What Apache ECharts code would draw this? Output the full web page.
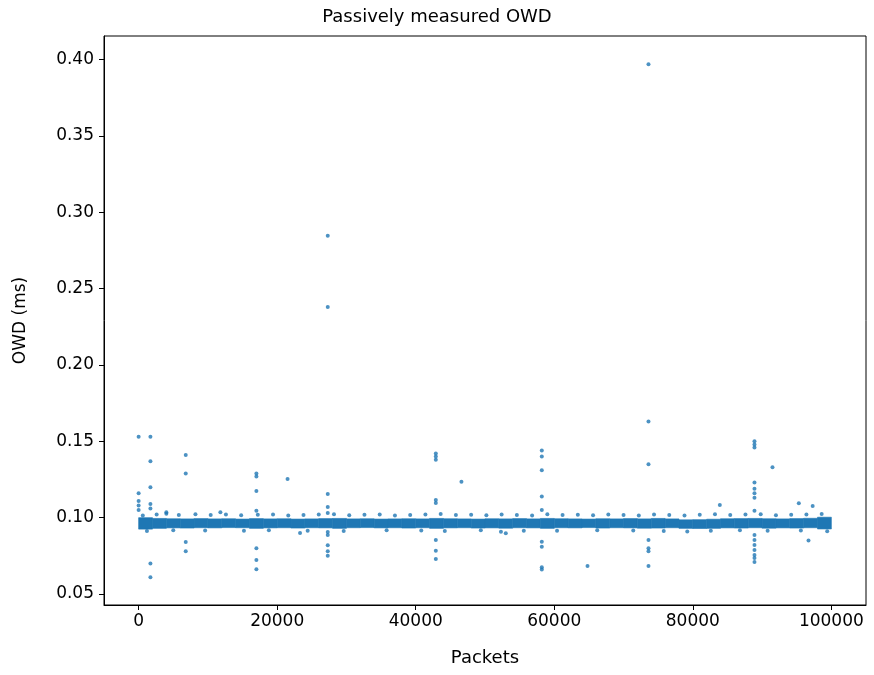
<!DOCTYPE html>
<html>
<head>
<meta charset="utf-8">
<script src="https://cdn.jsdelivr.net/npm/echarts@6/dist/echarts.min.js"></script>
<style>
  html, body { margin: 0; padding: 0; background: #fff; }
  #main { width: 874px; height: 675px; }
</style>
</head>
<body>
<div id="main"></div>
<script>
const blue = "#1f77b4";

const xTicks = [0, 20000, 40000, 60000, 80000, 100000];
const yTicks = [0.05, 0.10, 0.15, 0.20, 0.25, 0.30, 0.35, 0.40];

// dense core of the packets, read per 2000-packet bin (start, low, high)
const bandStart = [0, 2000, 4000, 6000, 8000, 10000, 12000, 14000, 16000, 18000,
  20000, 22000, 24000, 26000, 28000, 30000, 32000, 34000, 36000, 38000,
  40000, 42000, 44000, 46000, 48000, 50000, 52000, 54000, 56000, 58000,
  60000, 62000, 64000, 66000, 68000, 70000, 72000, 74000, 76000, 78000,
  80000, 82000, 84000, 86000, 88000, 90000, 92000, 94000, 96000, 98000];
const bandLow = [0.0925, 0.0930, 0.0933, 0.0932, 0.0934, 0.0933, 0.0935, 0.0934, 0.0930, 0.0933,
  0.0934, 0.0932, 0.0934, 0.0933, 0.0930, 0.0934, 0.0935, 0.0933, 0.0934, 0.0932,
  0.0934, 0.0930, 0.0933, 0.0934, 0.0932, 0.0933, 0.0931, 0.0934, 0.0933, 0.0930,
  0.0934, 0.0933, 0.0935, 0.0932, 0.0934, 0.0933, 0.0931, 0.0932, 0.0934, 0.0930,
  0.0929, 0.0930, 0.0933, 0.0932, 0.0934, 0.0931, 0.0933, 0.0932, 0.0934, 0.0926];
const bandHigh = [0.1000, 0.0995, 0.0993, 0.0992, 0.0994, 0.0992, 0.0993, 0.0991, 0.0994, 0.0992,
  0.0993, 0.0991, 0.0992, 0.0994, 0.0995, 0.0992, 0.0993, 0.0991, 0.0992, 0.0993,
  0.0992, 0.0995, 0.0993, 0.0992, 0.0991, 0.0993, 0.0992, 0.0994, 0.0992, 0.0995,
  0.0993, 0.0992, 0.0991, 0.0993, 0.0992, 0.0994, 0.0992, 0.0995, 0.0992, 0.0986,
  0.0987, 0.0990, 0.0993, 0.0994, 0.0995, 0.0993, 0.0992, 0.0994, 0.0996, 0.1003];

// small bumps along the edges of the band
const edgeX = [600, 2600, 4000, 5800, 8200, 10400, 12600, 14800, 17200, 19400, 21600, 23800,
  26000, 28200, 30400, 32600, 34800, 37000, 39200, 41400, 43600, 45800, 48000, 50200,
  52400, 54600, 56800, 59000, 61200, 63400, 65600, 67800, 70000, 72200, 74400, 76600,
  78800, 81000, 83200, 85400, 87600, 89800, 92000, 94200, 96400, 98600,
  1200, 5000, 9600, 15200, 18800, 24400, 29600, 35800, 40800, 44200, 49400, 55600,
  60400, 66200, 71400, 75800, 79200, 82600, 86800, 90800, 95600, 99400];
const edgeY = [0.1015, 0.1020, 0.1025, 0.1018, 0.1022, 0.1017, 0.1020, 0.1016, 0.1019, 0.1021, 0.1015, 0.1018,
  0.1020, 0.1022, 0.1016, 0.1019, 0.1021, 0.1015, 0.1018, 0.1020, 0.1024, 0.1017, 0.1019, 0.1016,
  0.1021, 0.1018, 0.1015, 0.1022, 0.1017, 0.1019, 0.1016, 0.1020, 0.1018, 0.1015, 0.1021, 0.1017,
  0.1014, 0.1019, 0.1023, 0.1018, 0.1020, 0.1022, 0.1016, 0.1019, 0.1021, 0.1024,
  0.0912, 0.0918, 0.0916, 0.0914, 0.0917, 0.0915, 0.0913, 0.0918, 0.0916, 0.0912, 0.0917, 0.0915,
  0.0914, 0.0918, 0.0916, 0.0913, 0.0910, 0.0915, 0.0917, 0.0914, 0.0916, 0.0911];

// isolated packets away from the band
const outX = [0, 0, 0, 0, 0,
  1700, 1700, 1700, 1700, 1700, 1700, 1700,
  4000, 6800, 6800, 6800, 6800, 11800,
  17000, 17000, 17000, 17000, 17000, 17000, 17000,
  21500, 23300,
  27300, 27300, 27300, 27300, 27300, 27300, 27300, 27300, 27300, 27300,
  42900, 42900, 42900, 42900, 42900, 42900, 42900, 42900,
  46600, 52300, 53000,
  58200, 58200, 58200, 58200, 58200, 58200, 58200, 58200, 58200,
  64800,
  73600, 73600, 73600, 73600, 73600, 73600, 73600,
  83900,
  88900, 88900, 88900, 88900, 88900, 88900, 88900, 88900, 88900, 88900, 88900, 88900, 88900, 88900, 88900,
  91500, 95300, 96700, 97300];
const outY = [0.153, 0.116, 0.111, 0.108, 0.105,
  0.153, 0.137, 0.120, 0.109, 0.106, 0.070, 0.061,
  0.1035, 0.141, 0.129, 0.084, 0.078, 0.1035,
  0.129, 0.127, 0.1175, 0.1046, 0.080, 0.0723, 0.0662,
  0.1254, 0.090,
  0.2847, 0.238, 0.1155, 0.107, 0.103, 0.0906, 0.0887, 0.082, 0.078, 0.075,
  0.142, 0.140, 0.138, 0.1116, 0.1096, 0.0854, 0.0784, 0.0729,
  0.1236, 0.0908, 0.0898,
  0.144, 0.140, 0.131, 0.1138, 0.105, 0.0843, 0.081, 0.0675, 0.066,
  0.0684,
  0.397, 0.163, 0.135, 0.0854, 0.080, 0.078, 0.0684,
  0.1083,
  0.150, 0.148, 0.146, 0.123, 0.119, 0.116, 0.113, 0.1046, 0.0887, 0.0854, 0.0821, 0.0788, 0.0756, 0.0736, 0.071,
  0.133, 0.1094, 0.085, 0.1077];

const binWidth = 2000;
const bandData = bandStart.map((s, i) => [s, bandLow[i], bandHigh[i]]);
const edgeData = edgeX.map((x, i) => [x, edgeY[i]]);
const outData = outX.map((x, i) => [x, outY[i]]);

const chart = echarts.init(document.getElementById("main"));
const font = "DejaVu Sans";

const option = {
  animation: false,
  title: {
    text: "Passively measured OWD",
    left: "center",
    top: 3,
    textStyle: { fontFamily: font, fontSize: 18, fontWeight: "normal", color: "#000" },
  },
  grid: {
    left: 104, right: 8, top: 36, bottom: 70,
    show: true, borderColor: "#000", borderWidth: 1, backgroundColor: "transparent",
  },
  xAxis: {
    type: "value",
    min: -5000,
    max: 105000,
    name: "Packets",
    nameLocation: "middle",
    nameGap: 44,
    nameTextStyle: { fontFamily: font, fontSize: 18, color: "#000" },
    axisLine: { show: true, onZero: false, lineStyle: { color: "#000" } },
    axisTick: { show: true, length: 5, lineStyle: { color: "#000" }, customValues: xTicks },
    axisLabel: {
      fontFamily: font, fontSize: 17, color: "#000", margin: 8, customValues: xTicks,
      formatter: (v) => String(v),
    },
    splitLine: { show: false },
  },
  yAxis: {
    type: "value",
    min: 0.0428,
    max: 0.4155,
    name: "OWD (ms)",
    nameLocation: "middle",
    nameGap: 75,
    nameTextStyle: { fontFamily: font, fontSize: 17, color: "#000" },
    axisLine: { show: true, onZero: false, lineStyle: { color: "#000" } },
    axisTick: { show: true, length: 5, lineStyle: { color: "#000" }, customValues: yTicks },
    axisLabel: {
      fontFamily: font, fontSize: 17, color: "#000", margin: 10, customValues: yTicks,
      formatter: (v) => v.toFixed(2),
    },
    splitLine: { show: false },
  },
  series: [
    {
      type: "custom",
      data: bandData,
      renderItem: function (params, api) {
        const p0 = api.coord([api.value(0), api.value(2)]);
        const p1 = api.coord([api.value(0) + binWidth, api.value(1)]);
        return {
          type: "rect",
          shape: { x: p0[0], y: p0[1], width: p1[0] - p0[0], height: p1[1] - p0[1] },
          style: { fill: blue, stroke: blue, lineWidth: 0.6 },
        };
      },
    },
    {
      type: "scatter",
      data: edgeData,
      symbolSize: 4,
      itemStyle: { color: blue },
    },
    {
      type: "scatter",
      data: outData,
      symbolSize: 4,
      itemStyle: { color: blue },
    },
  ],
};

chart.setOption(option);
</script>
</body>
</html>
